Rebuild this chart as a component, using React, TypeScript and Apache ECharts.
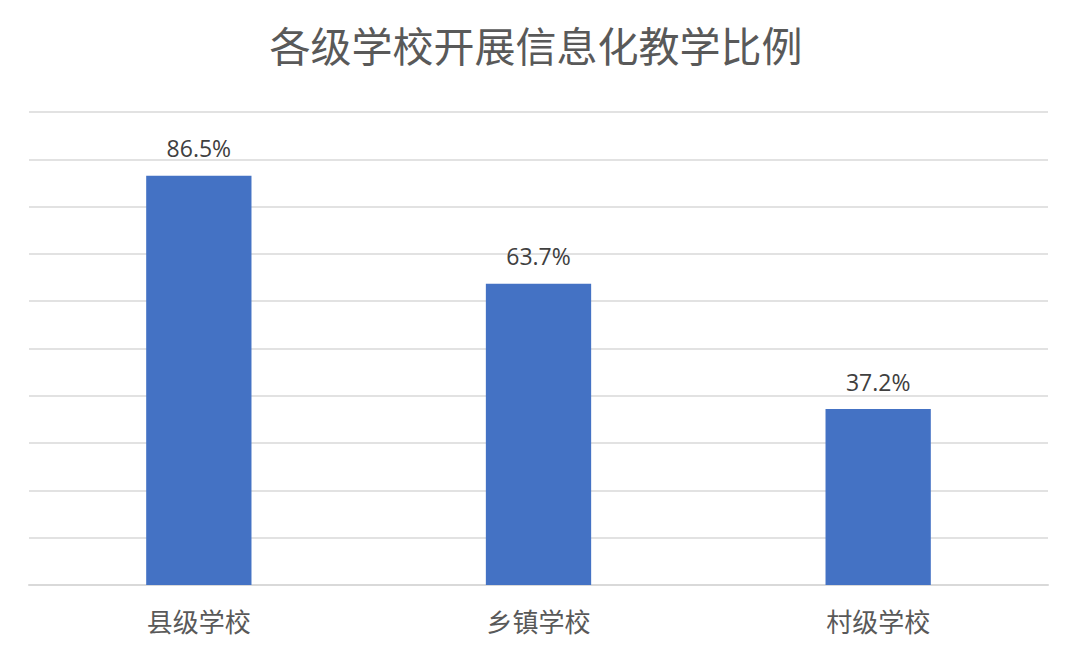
import React, { useEffect, useRef } from "react";
import * as echarts from "echarts";

const title = "各级学校开展信息化教学比例";
const categories = ["县级学校", "乡镇学校", "村级学校"];
const values = [86.5, 63.7, 37.2];
const axisMax = 100;
const axisInterval = 10;

export default function App() {
  const ref = useRef<HTMLDivElement>(null);
  useEffect(() => {
    if (!ref.current) return;
    const chart = echarts.init(ref.current, null, { renderer: "svg" });
    chart.setOption({
      animation: false,
      backgroundColor: "#ffffff",
      title: {
        text: title,
        left: "center",
        top: 18,
        textStyle: {
          fontFamily: "Noto Sans CJK SC",
          fontSize: 41,
          fontWeight: "normal",
          color: "#595959",
        },
      },
      grid: { left: 29, right: 24, top: 112, bottom: 67 },
      xAxis: {
        type: "category",
        data: categories,
        axisLine: { show: true, lineStyle: { color: "#d9d9d9", width: 2 } },
        axisTick: { show: false },
        axisLabel: {
          fontFamily: "Noto Sans CJK SC",
          fontSize: 26,
          color: "#595959",
          margin: 22,
        },
      },
      yAxis: {
        type: "value",
        min: 0,
        max: axisMax,
        interval: axisInterval,
        axisLabel: { show: false },
        axisLine: { show: false },
        axisTick: { show: false },
        splitLine: { lineStyle: { color: "#d9d9d9", width: 1.5 } },
      },
      series: [
        {
          type: "bar",
          data: values,
          barWidth: "31%",
          itemStyle: { color: "#4472C4" },
          label: {
            show: true,
            position: "top",
            distance: 16,
            formatter: (p: any) => p.value.toFixed(1) + "%",
            fontFamily: "Open Sans",
            fontSize: 23,
            color: "#404040",
          },
        },
      ],
    });
    return () => chart.dispose();
  }, []);
  return (
    <div
      ref={ref}
      style={{ position: "fixed", left: 0, top: 0, width: 1072, height: 652 }}
    />
  );
}
